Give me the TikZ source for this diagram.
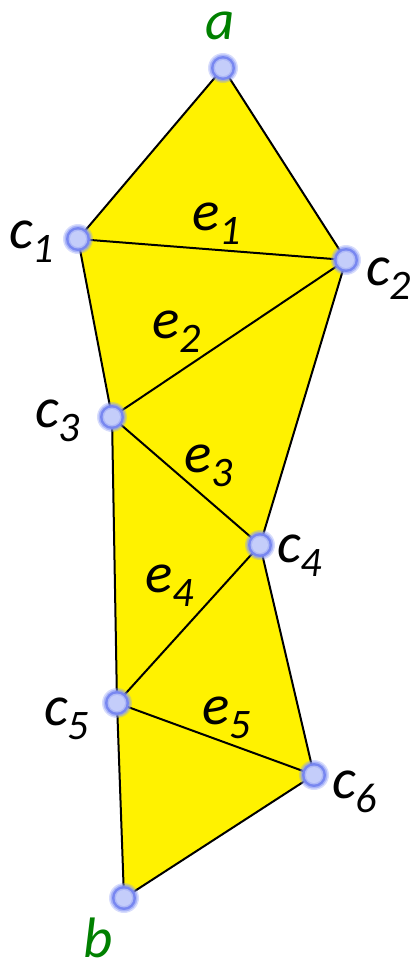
\documentclass[tikz,border=0pt]{standalone}
\usepackage{fontspec}
\setmainfont{Carlito}
\definecolor{vgreen}{RGB}{0,128,0}
\definecolor{dotout}{RGB}{140,155,245}
\definecolor{dotmid}{RGB}{120,135,240}
\definecolor{dotin}{RGB}{196,205,250}
\newcommand{\lbl}[2]{#1\raisebox{-14pt}{\fontsize{42}{42}\selectfont #2}}
\tikzset{
  lab/.style={inner sep=0pt, anchor=base west, font=\fontsize{57}{57}\selectfont\itshape},
  edge/.style={line width=2pt, black, line join=round},
}
\newcommand{\vdot}[1]{%
  \fill[dotout, opacity=0.35] (#1) circle (15);
  \fill[dotout, opacity=0.6] (#1) circle (13.5);
  \fill[dotmid] (#1) circle (12);
  \fill[dotin!70!dotmid] (#1) circle (9.5);
  \fill[dotin] (#1) circle (8);
}
\begin{document}
\begin{tikzpicture}[x=1pt,y=-1pt]
\useasboundingbox (0,0) rectangle (419,962);
\coordinate (a) at (223,68);
\coordinate (c1) at (78,239);
\coordinate (c2) at (346,260);
\coordinate (c3) at (112,417);
\coordinate (c4) at (260,545);
\coordinate (c5) at (117,703);
\coordinate (c6) at (314,775);
\coordinate (b) at (124,898);
\fill[yellow] (a) -- (c2) -- (c4) -- (c6) -- (b) -- (c5) -- (c3) -- (c1) -- cycle;
\draw[edge] (a) -- (c2) -- (c4) -- (c6) -- (b) -- (c5) -- (c3) -- (c1) -- cycle;
\draw[edge] (c1) -- (c2);
\draw[edge] (c2) -- (c3);
\draw[edge] (c3) -- (c4);
\draw[edge] (c4) -- (c5);
\draw[edge] (c5) -- (c6);
\vdot{a}\vdot{c1}\vdot{c2}\vdot{c3}\vdot{c4}\vdot{c5}\vdot{c6}\vdot{b}
\node[lab, text=vgreen] (la) at (205,39) {a};
\node[lab, text=vgreen] (lb) at (83,957) {b};
\node[lab] (lc1) at (9,248) {\lbl{c}{1}};
\node[lab] (lc2) at (366,285) {\lbl{c}{2}};
\node[lab] (lc3) at (35,427) {\lbl{c}{3}};
\node[lab] (lc4) at (277,562) {\lbl{c}{4}};
\node[lab] (lc5) at (44,725) {\lbl{c}{5}};
\node[lab] (lc6) at (332,798) {\lbl{c}{6}};
\node[lab] (le1) at (192,230) {\lbl{e}{1}};
\node[lab] (le2) at (152,338) {\lbl{e}{2}};
\node[lab] (le3) at (184,472) {\lbl{e}{3}};
\node[lab] (le4) at (145,592) {\lbl{e}{4}};
\node[lab] (le5) at (202,724) {\lbl{e}{5}};
\end{tikzpicture}
\end{document}
